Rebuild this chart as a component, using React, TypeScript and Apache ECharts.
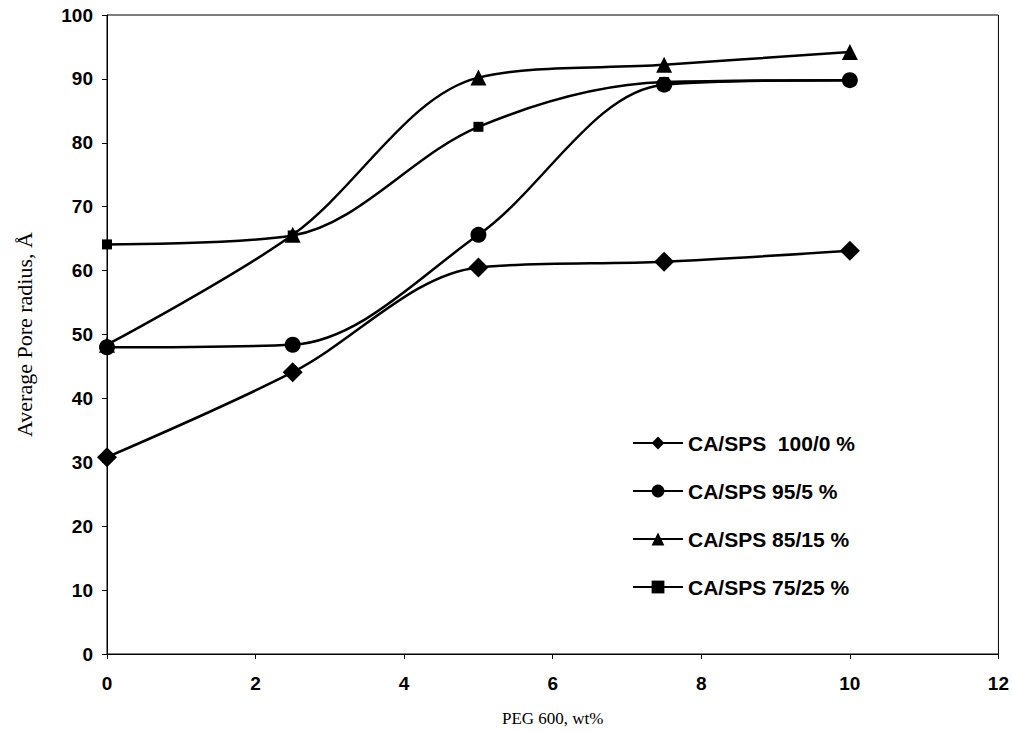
import React, { useEffect, useRef } from "react";
import * as echarts from "echarts";

const peg = [0, 2.5, 5, 7.5, 10];
const s100 = [30.8, 44.1, 60.5, 61.4, 63.1];
const s95 = [48.0, 48.4, 65.6, 89.1, 89.8];
const s85 = [48.4, 65.6, 90.2, 92.2, 94.2];
const s75 = [64.1, 65.5, 82.5, 89.5, 89.8];
const names = ["CA/SPS  100/0 %", "CA/SPS 95/5 %", "CA/SPS 85/15 %", "CA/SPS 75/25 %"];

export default function App() {
  const ref = useRef<HTMLDivElement>(null);
  useEffect(() => {
    const chart = echarts.init(ref.current!, null, { renderer: "svg" });
    const mk = (name: string, vals: number[], symbol: string, size: number) => ({
      name,
      type: "line",
      data: peg.map((x, i) => [x, vals[i]]),
      smooth: 0.33,
      symbol,
      symbolSize: size,
      lineStyle: { color: "#000", width: 2.5 },
      itemStyle: { color: "#000" },
    });
    chart.setOption({
      animation: false,
      backgroundColor: "#fff",
      grid: { left: 107, right: 12, top: 15, bottom: 77, show: true, borderColor: "#000", borderWidth: 1 },
      xAxis: {
        type: "value",
        min: 0,
        max: 12,
        interval: 2,
        name: "PEG 600, wt%",
        nameLocation: "middle",
        nameGap: 56,
        nameTextStyle: { fontFamily: "Liberation Serif", fontSize: 17, color: "#000" },
        axisLine: { lineStyle: { color: "#000", width: 1 } },
        axisTick: { show: true, length: 5, lineStyle: { color: "#000" } },
        axisLabel: { fontFamily: "Liberation Sans", fontSize: 19, fontWeight: "bold", color: "#000", margin: 20 },
        splitLine: { show: false },
      },
      yAxis: {
        type: "value",
        min: 0,
        max: 100,
        interval: 10,
        name: "Average Pore radius, Å",
        nameLocation: "middle",
        nameGap: 72,
        nameTextStyle: { fontFamily: "Liberation Serif", fontSize: 22, color: "#000" },
        axisLine: { show: true, lineStyle: { color: "#000", width: 1 } },
        axisTick: { show: true, length: 5, lineStyle: { color: "#000" } },
        axisLabel: { fontFamily: "Liberation Sans", fontSize: 19, fontWeight: "bold", color: "#000", margin: 14 },
        splitLine: { show: false },
      },
      legend: {
        orient: "vertical",
        left: 632,
        top: 432,
        padding: 0,
        itemWidth: 50,
        itemHeight: 16,
        itemGap: 26,
        textStyle: { fontFamily: "Liberation Sans", fontSize: 21, fontWeight: "bold", color: "#000", lineHeight: 22 },
        data: names,
      },
      series: [
        mk(names[0], s100, "diamond", 20),
        mk(names[1], s95, "circle", 16),
        mk(names[2], s85, "triangle", 16),
        mk(names[3], s75, "rect", 10),
      ],
    });
    return () => chart.dispose();
  }, []);
  return <div ref={ref} style={{ position: "absolute", left: 0, top: 0, width: 1012, height: 732 }} />;
}
